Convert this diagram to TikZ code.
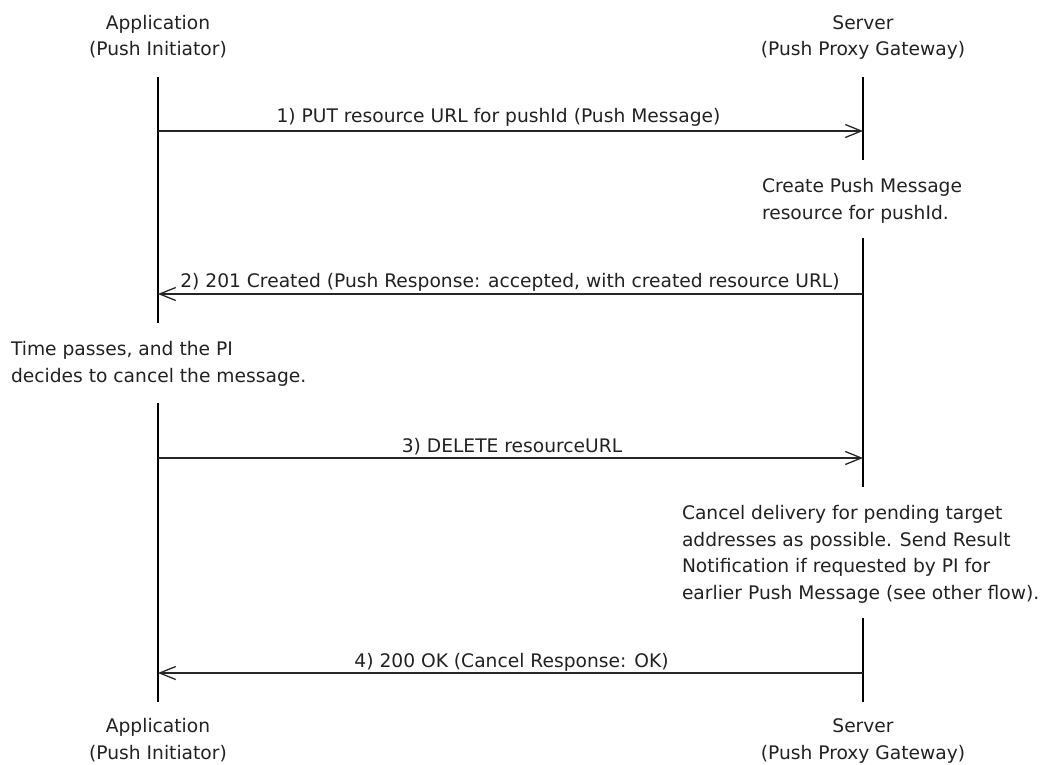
\documentclass[tikz,border=0pt]{standalone}
\usepackage{fontspec}
\setmainfont{DejaVu Sans}
\usetikzlibrary{arrows.meta}
\definecolor{ink}{HTML}{222222}
\begin{document}
\begin{tikzpicture}[x=1pt,y=-1pt,
  every node/.style={inner sep=0pt,outer sep=0pt,text=ink,font=\fontsize{18.67}{26.5}\selectfont},
  life/.style={draw=black,line width=1.3pt},
  msg/.style={draw=black!85,line width=1.3pt,-{Straight Barb[length=16pt,width=13pt,line width=1.3pt]}},
  lbl/.style={anchor=base},
  note/.style={anchor=base west,align=left}]
\useasboundingbox[fill=white] (0,0) rectangle (1047,765);
% actor labels (anchor at baseline of last line)
\node[lbl,align=center] (ta) at (158,56) {Application\\(Push Initiator)};
\node[lbl,align=center] (ts) at (863,56) {Server\\(Push Proxy Gateway)};
\node[lbl,align=center] (ba) at (158,759) {Application\\(Push Initiator)};
\node[lbl,align=center] (bs) at (863,759) {Server\\(Push Proxy Gateway)};
% lifeline segments
\coordinate (a1s) at (158,77);  \coordinate (a1e) at (158,323);
\coordinate (a2s) at (158,403); \coordinate (a2e) at (158,702);
\coordinate (s1s) at (863,77);  \coordinate (s1e) at (863,160);
\coordinate (s2s) at (863,238); \coordinate (s2e) at (863,487);
\coordinate (s3s) at (863,618); \coordinate (s3e) at (863,702);
\draw[life] (a1s) -- (a1e);
\draw[life] (a2s) -- (a2e);
\draw[life] (s1s) -- (s1e);
\draw[life] (s2s) -- (s2e);
\draw[life] (s3s) -- (s3e);
% message endpoints
\coordinate (m1a) at (158,131); \coordinate (m1s) at (863,131);
\coordinate (m2a) at (158,294); \coordinate (m2s) at (863,294);
\coordinate (m3a) at (158,458); \coordinate (m3s) at (863,458);
\coordinate (m4a) at (158,673); \coordinate (m4s) at (863,673);
\draw[msg] (m1a) -- (m1s);
\draw[msg] (m2s) -- (m2a);
\draw[msg] (m3a) -- (m3s);
\draw[msg] (m4s) -- (m4a);
% message labels
\node[lbl] (l1) at (498.5,123) {1) PUT resource URL for pushId (Push Message)};
\node[lbl] (l2) at (510,287) {2) 201 Created (Push Response: accepted, with created resource URL)};
\node[lbl] (l3) at (512,452) {3) DELETE resourceURL};
\node[lbl] (l4) at (511.5,667) {4) 200 OK (Cancel Response: OK)};
% notes (anchor at baseline of last line)
\node[note] (n1) at (762,219) {Create Push Message\\resource for pushId.};
\node[note] (n2) at (11,382) {Time passes, and the PI\\decides to cancel the message.};
\node[note] (n3) at (682,599) {Cancel delivery for pending target\\addresses as possible. Send Result\\Notification if requested by PI for\\earlier Push Message (see other flow).};
\end{tikzpicture}
\end{document}
